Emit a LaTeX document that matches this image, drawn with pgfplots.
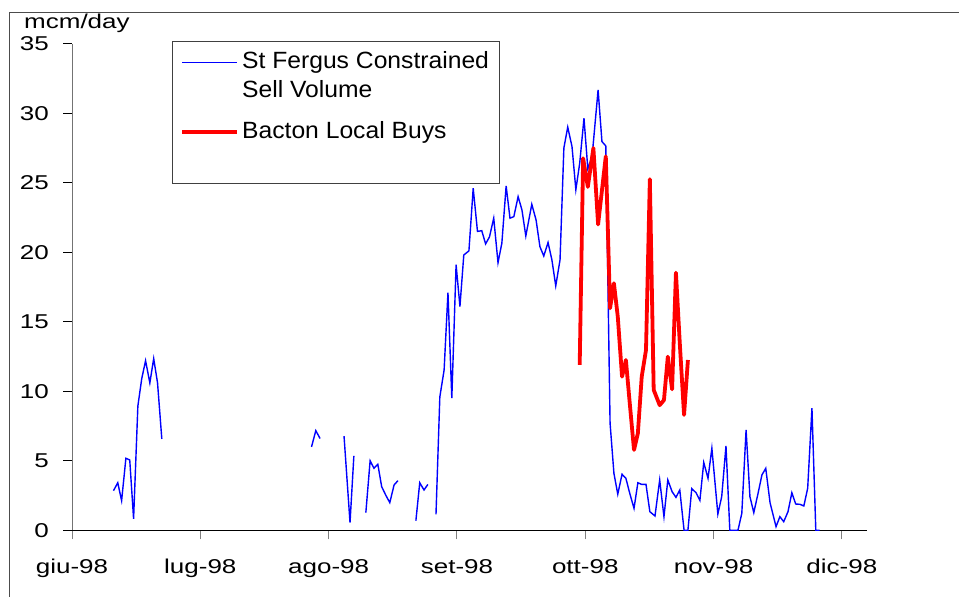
\documentclass[border=0pt]{standalone}
\usepackage{pgfplots}
\pgfplotsset{compat=1.18}
\usepackage{pgfplotstable}
\usepackage{fontspec}
\setmainfont{Liberation Sans}
\newfontfamily\axfont{Liberation Sans}[FakeStretch=1.3]
\newfontfamily\legfont{Liberation Sans}[FakeStretch=1.05]

\pgfplotstableread{
x y
9.7 2.85
10.7 3.42
11.6 2.13
12.6 5.18
13.5 5.06
14.4 0.83
15.4 8.94
16.3 10.9
17.2 12.2
18.2 10.6
19.1 12.35
20.0 10.6
21.0 6.57
38 nan
56.0 6.0
57.0 7.17
58.0 6.6
60 nan
63.6 6.78
65.0 0.55
65.9 5.35
67 nan
68.7 1.27
69.7 5.0
70.6 4.46
71.5 4.75
72.4 3.14
73.4 2.5
74.3 1.99
75.3 3.26
76.2 3.57
78 nan
80.4 0.69
81.3 3.42
82.3 2.9
83.2 3.3
84 nan
85.1 1.15
86.0 9.6
87.0 11.53
87.9 17.1
88.8 9.5
89.8 19.1
90.7 16.1
91.6 19.8
92.8 20.1
93.8 24.6
94.8 21.5
95.8 21.55
96.7 20.6
97.6 21.1
98.6 22.45
99.6 19.25
100.5 20.65
101.5 24.77
102.4 22.45
103.3 22.56
104.3 24.0
105.2 23.04
106.1 21.17
107.5 23.45
108.5 22.32
109.4 20.4
110.3 19.73
111.3 20.7
112.2 19.45
113.1 17.58
114.1 19.45
115.0 27.5
115.9 29.0
116.9 27.6
117.8 24.5
118.7 26.4
119.7 29.64
120.6 26.0
121.6 26.9
123.0 31.68
123.9 27.96
124.8 27.65
125.8 7.7
126.7 4.1
127.6 2.6
128.6 4.03
129.5 3.74
130.4 2.66
131.4 1.58
132.3 3.42
133.2 3.3
134.2 3.3
135.1 1.34
136.3 1.03
137.4 3.62
138.4 0.98
139.3 3.62
140.3 2.78
141.2 2.37
142.1 2.9
143.1 0
144.0 0
144.9 3.0
145.9 2.7
146.8 2.15
147.7 4.88
148.7 3.74
149.6 5.9
151.0 1.17
151.9 2.42
152.9 6.07
153.8 0
155.7 0
156.6 1.22
157.6 7.22
158.5 2.42
159.4 1.27
160.4 2.66
161.3 3.98
162.2 4.46
163.2 1.99
164.6 0.26
165.5 0.98
166.4 0.62
167.4 1.34
168.3 2.7
169.2 1.89
170.2 1.87
171.1 1.75
172.0 3.02
173.0 8.78
173.9 0
174.8 0
}\stfergus

\pgfplotstableread{
x y
118.7 11.9
119.5 26.76
120.6 24.7
121.9 27.5
123.0 22.0
124.8 26.9
125.8 15.97
126.7 17.77
127.6 15.37
128.6 11.05
129.5 12.25
130.4 9.14
131.4 5.78
132.3 6.98
133.2 11.05
134.2 12.97
135.1 25.25
136.0 10.1
137.4 9.0
138.4 9.37
139.3 12.49
140.3 10.14
141.2 18.53
142.1 13.45
143.1 8.3
144.0 12.25
}\bacton

\begin{document}
\begin{tikzpicture}[x=1pt,y=1pt]
\useasboundingbox (0,0) rectangle (959,597);
\draw[black!70, line width=0.8pt] (9,-5) -- (9,585) -- (965,585);
\node[anchor=base west, inner sep=0pt, font=\axfont\fontsize{20}{24}\selectfont] at (24,568.7) {mcm/day};
\begin{axis}[
  at={(72pt,66.7pt)}, anchor=south west, scale only axis,
  width=794.7pt, height=486.6pt,
  xmin=0, xmax=185.8, ymin=0, ymax=35,
  axis x line*=bottom, axis y line*=left,
  x axis line style={black, line width=0.9pt, -},
  y axis line style={black!55, line width=0.9pt, -},
  xtick={0,30,60,90,120,150,180},
  xticklabels={giu-98,lug-98,ago-98,set-98,ott-98,nov-98,dic-98},
  ytick={0,5,...,35},
  tick align=outside, major tick length=9pt,
  x tick style={black!50, line width=0.9pt},
  y tick style={black, line width=0.8pt},
  /pgf/number format/assume math mode=true,
  tick label style={font=\axfont\fontsize{20}{24}\selectfont, inner sep=0pt},
  yticklabel style={anchor=east, xshift=-14pt},
  xticklabel style={anchor=north, yshift=-20pt},
  clip=false,
  unbounded coords=jump,
]
\addplot[blue, line width=1.4pt] table[x=x,y=y] {\stfergus};
\addplot[red, line width=3.8pt, line join=round] table[x=x,y=y] {\bacton};
\node[draw=black!75, line width=0.8pt, fill=white, anchor=north west,
  inner xsep=10pt, inner ysep=7pt,
  font=\legfont\fontsize{23.5}{29}\selectfont]
  at (rel axis cs:0.1255,1.0062) {%
  \begin{tabular}{@{}l@{\hspace{5pt}}l@{}}
  \textcolor{blue}{\rule[5.8pt]{55pt}{1pt}} & St Fergus Constrained\\
  & Sell Volume\\[12pt]
  \textcolor{red}{\rule[4.4pt]{55pt}{3.8pt}} & Bacton Local Buys\rule[-37.7pt]{0pt}{0pt}
  \end{tabular}};
\end{axis}
\end{tikzpicture}
\end{document}
